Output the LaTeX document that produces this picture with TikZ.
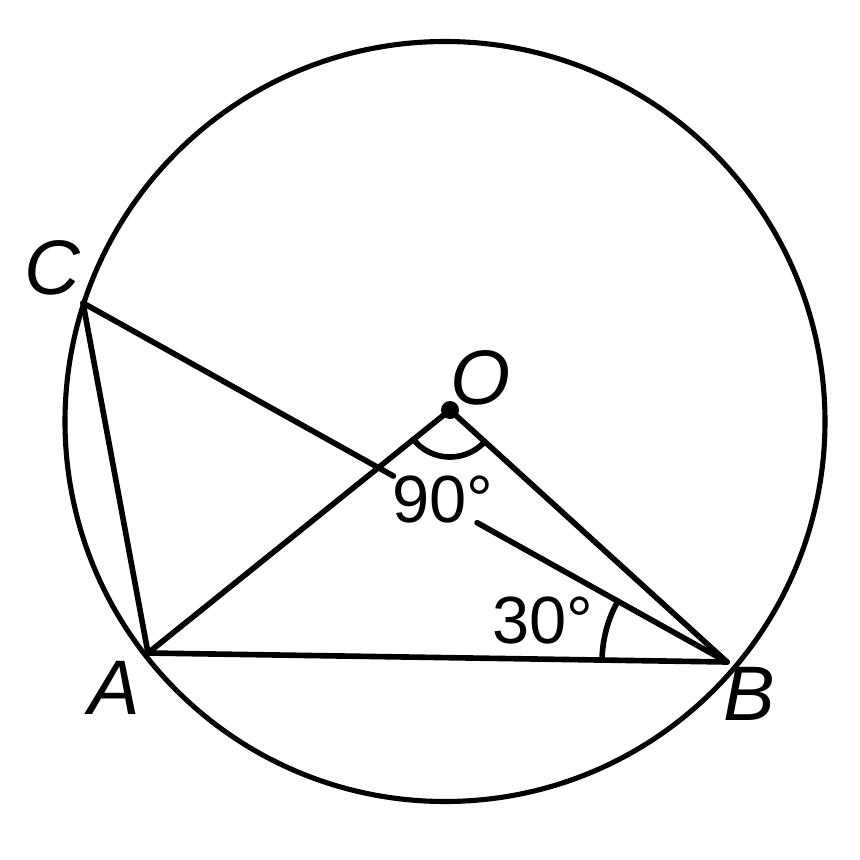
\documentclass[tikz,border=0pt]{standalone}
\usepackage{fontspec}
\setmainfont{Liberation Sans}
\usetikzlibrary{calc}
\begin{document}
\begin{tikzpicture}[
  geo/.style={line width=1.6pt, line cap=round},
  ptlabel/.style={font=\fontsize{22}{26}\selectfont\itshape, inner sep=0pt},
  anglabel/.style={font=\fontsize{19}{22}\selectfont, inner sep=0pt}
]
\useasboundingbox (0,0) rectangle (8.6,-8.6);
\fill[white] (0,0) rectangle (8.6,-8.6);
\coordinate (Oc) at (4.45,-4.215);
\coordinate (O) at (4.50,-4.10);
\coordinate (A) at (1.48,-6.53);
\coordinate (B) at (7.27,-6.62);
\coordinate (C) at (0.83,-3.03);
\draw[geo, line width=1.45pt] (Oc) circle[radius=3.80];
\draw[geo] (A) -- (B);
\draw[geo] (O) -- (A);
\draw[geo] (O) -- (B);
\draw[geo] (C) -- (A);
\coordinate (g1) at ($(C)!0.482!(B)$);
\coordinate (g2) at ($(C)!0.612!(B)$);
\draw[geo] (C) -- (g1);
\draw[geo] (g2) -- (B);
\fill (O) circle[radius=0.09];
\draw[geo] ([shift={(218.8:0.47)}]O) arc[start angle=218.8, end angle=317.7, radius=0.47];
\draw[geo] ([shift={(150.9:1.25)}]B) arc[start angle=150.9, end angle=179.1, radius=1.25];
\node[ptlabel] (lC) at (0.52,-2.68) {C};
\node[ptlabel] (lO) at (4.81,-3.78) {O};
\node[ptlabel] (lA) at (1.14,-6.88) {A};
\node[ptlabel] (lB) at (7.49,-6.94) {B};
\node[anglabel] (l90) at (4.43,-5.00) {90°};
\node[anglabel] (l30) at (5.43,-6.21) {30°};
\end{tikzpicture}
\end{document}
